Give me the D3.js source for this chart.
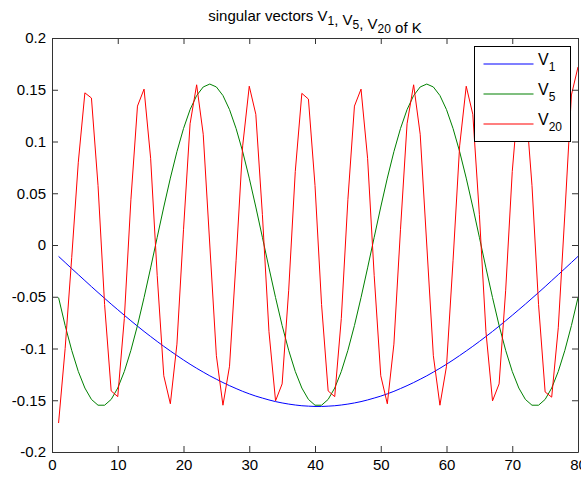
<!DOCTYPE html>
<html>
<head>
<meta charset="utf-8">
<script src="https://cdn.jsdelivr.net/npm/d3@7"></script>
<style>
  body { margin: 0; background: #fff; }
  svg text { font-family: "Liberation Sans", Arial, sans-serif; fill: #000; }
</style>
</head>
<body>
<div id="svd-chart"></div>
<script>
const v1 = [-0.0110, -0.0169, -0.0228, -0.0286, -0.0344, -0.0402, -0.0459, -0.0515, -0.0571, -0.0625,
  -0.0679, -0.0732, -0.0784, -0.0835, -0.0884, -0.0932, -0.0979, -0.1024, -0.1068, -0.1111,
  -0.1152, -0.1191, -0.1228, -0.1264, -0.1297, -0.1329, -0.1359, -0.1387, -0.1414, -0.1438,
  -0.1460, -0.1479, -0.1497, -0.1513, -0.1526, -0.1537, -0.1546, -0.1553, -0.1557, -0.1560,
  -0.1560, -0.1557, -0.1553, -0.1546, -0.1537, -0.1526, -0.1513, -0.1497, -0.1479, -0.1460,
  -0.1438, -0.1414, -0.1387, -0.1359, -0.1329, -0.1297, -0.1264, -0.1228, -0.1191, -0.1152,
  -0.1111, -0.1068, -0.1024, -0.0979, -0.0932, -0.0884, -0.0835, -0.0784, -0.0732, -0.0679,
  -0.0625, -0.0571, -0.0515, -0.0459, -0.0402, -0.0344, -0.0286, -0.0228, -0.0169, -0.0110];

const v5 = [-0.0508, -0.0778, -0.1018, -0.1222, -0.1382, -0.1492, -0.1548, -0.1548, -0.1492, -0.1382,
  -0.1222, -0.1018, -0.0778, -0.0508, -0.0221, 0.0074, 0.0367, 0.0646, 0.0902, 0.1125,
  0.1308, 0.1444, 0.1527, 0.1555, 0.1527, 0.1444, 0.1308, 0.1125, 0.0902, 0.0646,
  0.0367, 0.0074, -0.0221, -0.0508, -0.0778, -0.1018, -0.1222, -0.1382, -0.1492, -0.1548,
  -0.1548, -0.1492, -0.1382, -0.1222, -0.1018, -0.0778, -0.0508, -0.0221, 0.0074, 0.0367,
  0.0646, 0.0902, 0.1125, 0.1308, 0.1444, 0.1527, 0.1555, 0.1527, 0.1444, 0.1308,
  0.1125, 0.0902, 0.0646, 0.0367, 0.0074, -0.0221, -0.0508, -0.0778, -0.1018, -0.1222,
  -0.1382, -0.1492, -0.1548, -0.1548, -0.1492, -0.1382, -0.1222, -0.1018, -0.0778, -0.0508];

const v20 = [-0.1720, -0.1000, -0.0120, 0.0800, 0.1470, 0.1420, 0.0576, -0.0576, -0.1410, -0.1465,
  -0.0710, 0.0437, 0.1342, 0.1506, 0.0838, -0.0293, -0.1263, -0.1534, -0.0958, 0.0147,
  0.1171, 0.1548, 0.1070, 0.0000, -0.1070, -0.1548, -0.1171, -0.0147, 0.0958, 0.1534,
  0.1263, 0.0293, -0.0838, -0.1506, -0.1342, -0.0437, 0.0710, 0.1465, 0.1410, 0.0576,
  -0.0576, -0.1410, -0.1465, -0.0710, 0.0437, 0.1342, 0.1506, 0.0838, -0.0293, -0.1263,
  -0.1534, -0.0958, 0.0147, 0.1171, 0.1548, 0.1070, 0.0000, -0.1070, -0.1548, -0.1171,
  -0.0147, 0.0958, 0.1534, 0.1263, 0.0293, -0.0838, -0.1506, -0.1342, -0.0437, 0.0710,
  0.1465, 0.1410, 0.0576, -0.0576, -0.1420, -0.1470, -0.0800, 0.0300, 0.1450, 0.1720];

const xTicks = [0, 10, 20, 30, 40, 50, 60, 70, 80];
const yTicks = [-0.2, -0.15, -0.1, -0.05, 0, 0.05, 0.1, 0.15, 0.2];
const yTickLabels = ['-0.2', '-0.15', '-0.1', '-0.05', '0', '0.05', '0.1', '0.15', '0.2'];

const series = [
  { name: 'V', sub: '1', values: v1, color: '#0000ff' },
  { name: 'V', sub: '5', values: v5, color: '#008000' },
  { name: 'V', sub: '20', values: v20, color: '#ff0000' }
];

const width = 581;
const height = 477;
const margin = { top: 38, right: 3, bottom: 25, left: 52 };
const w = width - margin.left - margin.right;
const h = height - margin.top - margin.bottom;

const svg = d3.select('#svd-chart')
  .append('svg')
  .attr('width', width)
  .attr('height', height);

const g = svg.append('g')
  .attr('transform', `translate(${margin.left},${margin.top})`);

const x = d3.scaleLinear().domain([0, 80]).range([0, w]);
const y = d3.scaleLinear().domain([-0.2, 0.2]).range([h, 0]);

g.append('defs').append('clipPath')
  .attr('id', 'plot-clip')
  .append('rect')
  .attr('width', w)
  .attr('height', h);

const lineGen = d3.line()
  .x((d, i) => x(i + 1))
  .y(d => y(d));

g.append('g')
  .attr('clip-path', 'url(#plot-clip)')
  .selectAll('path')
  .data(series)
  .enter()
  .append('path')
  .attr('d', d => lineGen(d.values))
  .style('fill', 'none')
  .style('stroke', d => d.color)
  .style('stroke-width', 1);

// axes with inward ticks on all four sides
const tickLen = 6;
const axisColor = '#333';

const xAxisBottom = g.append('g')
  .attr('transform', `translate(0,${h})`)
  .call(d3.axisBottom(x).tickValues(xTicks).tickSizeInner(-tickLen).tickSizeOuter(0).tickPadding(7));
const xAxisTop = g.append('g')
  .call(d3.axisTop(x).tickValues(xTicks).tickSizeInner(-tickLen).tickSizeOuter(0).tickFormat(''));
const yAxisLeft = g.append('g')
  .call(d3.axisLeft(y).tickValues(yTicks).tickSizeInner(-tickLen).tickSizeOuter(0).tickPadding(6)
    .tickFormat((d, i) => yTickLabels[i]));
const yAxisRight = g.append('g')
  .attr('transform', `translate(${w},0)`)
  .call(d3.axisRight(y).tickValues(yTicks).tickSizeInner(-tickLen).tickSizeOuter(0).tickFormat(''));

[xAxisBottom, xAxisTop, yAxisLeft, yAxisRight].forEach(a => {
  a.select('.domain').attr('stroke', axisColor);
  a.selectAll('.tick line').attr('stroke', axisColor);
  a.selectAll('.tick text')
    .style('font-size', '15px')
    .attr('fill', '#000');
});
xAxisBottom.selectAll('.tick text').attr('dy', '0.71em');

// title with subscripts
const title = svg.append('text')
  .attr('x', margin.left + w / 2)
  .attr('y', 21)
  .attr('text-anchor', 'middle')
  .style('font-size', '15px');

const titleParts = [['singular vectors V', '1'], [', V', '5'], [', V', '20'], [' of K', null]];
titleParts.forEach(([txt, sub]) => {
  title.append('tspan').text(txt);
  if (sub) {
    title.append('tspan').attr('dy', 4).style('font-size', '12px').text(sub);
    title.append('tspan').attr('dy', -4).text('');
  }
});

// legend
const legend = svg.append('g')
  .attr('transform', 'translate(474.5,46.5)');

legend.append('rect')
  .attr('width', 96)
  .attr('height', 95)
  .style('fill', '#fff')
  .style('stroke', '#000')
  .style('stroke-width', 1);

series.forEach((s, i) => {
  const yy = 17 + i * 30;
  legend.append('line')
    .attr('x1', 9)
    .attr('x2', 59)
    .attr('y1', yy + 0.5)
    .attr('y2', yy + 0.5)
    .style('stroke', s.color)
    .style('stroke-width', 1.2);

  const label = legend.append('text')
    .attr('x', 63.5)
    .attr('y', yy + 1.5)
    .style('font-size', '16px');
  label.append('tspan').text(s.name);
  label.append('tspan')
    .attr('dy', 6)
    .style('font-size', '12px')
    .text(s.sub);
});
</script>
</body>
</html>
